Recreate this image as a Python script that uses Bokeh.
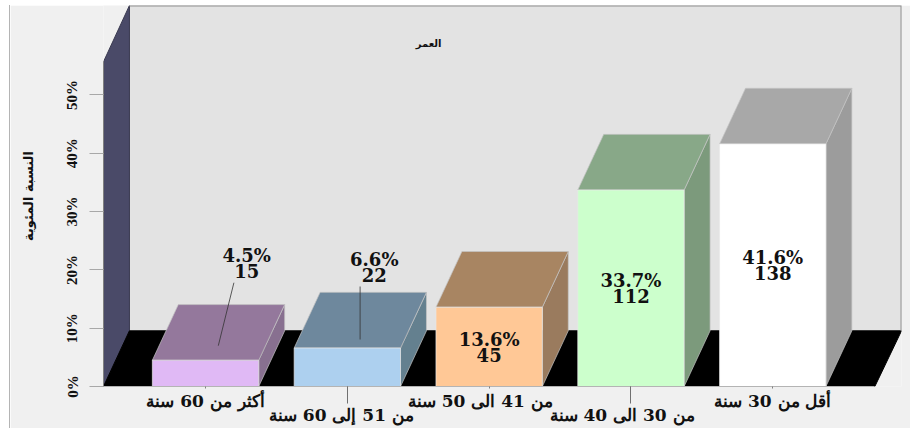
from bokeh.plotting import figure
from bokeh.embed import file_html
from bokeh.resources import INLINE
from bokeh.core.properties import value
from bokeh.models import Range1d, FixedTicker

categories = ["أكثر من 60 سنة", "من 51  إلى  60 سنة", "من 41  الى  50  سنة", "من 30  الى  40  سنة", "أقل من 30 سنة"]
percent = [4.5, 6.6, 13.6, 33.7, 41.6]
counts = [15, 22, 45, 112, 138]
y_ticks = [0, 10, 20, 30, 40, 50]
y_title = "النسبة المئوية"
chart_title = "العمر"

front_colors = ["#E0B9F5", "#ADD0EF", "#FFC896", "#CCFFCC", "#FFFFFF"]
top_colors = ["#94789C", "#6E889D", "#A88562", "#88A888", "#A8A8A8"]
side_colors = ["#887090", "#64808F", "#9A7B5E", "#7C9A7C", "#9C9C9C"]

X0, X1 = -0.7196, 4.908
Y1, WALL = 65.35, 55.7
DX, DY = 0.183, 9.55
BW = 0.75
FLOOR_END = 4.72

p = figure(width=901, height=423, x_range=Range1d(X0, X1), y_range=Range1d(0, Y1),
           output_backend="svg", toolbar_location=None,
           min_border_left=93, min_border_right=10, min_border_top=0, min_border_bottom=42,
           background_fill_color="#F0F0F0", border_fill_color="#F0F0F0",
           margin=(5, 0, 0, 9))
p.outline_line_color = None
p.grid.visible = False
p.styles = {"border-left": "1px solid #B4B4B4"}

# walls and floor
p.patch([X0 + DX, X1, X1, X0 + DX], [DY, DY, Y1, Y1], color="#E3E3E3")
p.patch([X0, X0, X0 + DX, X0 + DX], [0, WALL, Y1, DY], fill_color="#4A4A68", line_color="#3A3A50")
p.patch([X0, FLOOR_END, X1, X0 + DX], [0, 0, DY, DY], color="#000000")
p.line([X0 + DX, X1, X1], [Y1, Y1, DY], line_color="#909090", line_width=2)

# bars
for i, v in enumerate(percent):
    l, r = i - BW / 2, i + BW / 2
    p.patch([r, r + DX, r + DX, r], [0, DY, v + DY, v], fill_color=side_colors[i], line_color="#C4C4C4", line_width=0.7)
    p.patch([l, r, r + DX, l + DX], [v, v, v + DY, v + DY], fill_color=top_colors[i], line_color="#C4C4C4", line_width=0.7)
    p.quad(left=l, right=r, bottom=0, top=v, fill_color=front_colors[i], line_color="#E8E8E8", line_width=0.7)

# value labels
label_x = [0.29, 1.19, 2, 3, 4]
label_y = [21.1, 20.5, 6.7, 16.8, 20.75]
for x, y, v, c in zip(label_x, label_y, percent, counts):
    p.text([x], [y + 1.3], text=[f"{v}%"],
           text_font=value("DejaVu Serif"), text_font_style="bold", text_font_size="18px",
           text_align="center", text_baseline="middle", text_color="#111111")
    p.text([x], [y - 1.3], text=[str(c)],
           text_font=value("DejaVu Serif"), text_font_style="bold", text_font_size="18px",
           text_align="center", text_baseline="middle", text_color="#111111")

# leader lines
p.segment([0.2, 1.09], [17.8, 17.15], [0.09, 1.09], [7.0, 8.06], line_color="#333333", line_width=0.8)

p.text([1.573], [58.8], text=[chart_title], text_font=value("DejaVu Sans"), text_font_style="bold",
       text_font_size="10px", text_align="center", text_baseline="middle", text_color="#111111")

# axes
ya = p.yaxis[0]
ya.ticker = FixedTicker(ticks=y_ticks)
ya.major_label_overrides = {t: f"{t}%" for t in y_ticks}
ya.bounds = (0, WALL)
ya.major_tick_out = 14
ya.major_tick_in = 0
ya.minor_tick_out = 0
ya.minor_tick_in = 0
ya.major_tick_line_color = "#A8A8A8"
ya.axis_line_color = "#808080"
ya.major_label_orientation = "vertical"
ya.major_label_standoff = 9
ya.major_label_text_font = "Liberation Serif"
ya.major_label_text_font_style = "bold"
ya.major_label_text_font_size = "15px"
ya.major_label_text_color = "#111111"
ya.axis_label = y_title
ya.axis_label_text_font = "DejaVu Sans"
ya.axis_label_text_font_style = "bold"
ya.axis_label_text_font_size = "13px"
ya.axis_label_text_color = "#111111"
ya.axis_label_standoff = 26

xa = p.xaxis[0]
xa.ticker = FixedTicker(ticks=list(range(len(categories))), minor_ticks=[1, 3])
xa.major_label_overrides = {i: ("\n" + c if i % 2 else c) for i, c in enumerate(categories)}
xa.bounds = (X0, FLOOR_END)
xa.major_tick_out = 2
xa.major_tick_in = 0
xa.minor_tick_out = 17
xa.minor_tick_in = 0
xa.major_tick_line_color = "#808080"
xa.minor_tick_line_color = "#707070"
xa.axis_line_color = "#B4B4B4"
xa.major_label_orientation = "horizontal"
xa.major_label_standoff = -13
xa.major_label_text_font = "DejaVu Serif"
xa.major_label_text_font_style = "bold"
xa.major_label_text_font_size = "17px"
xa.major_label_text_line_height = 0.7
xa.major_label_text_color = "#111111"

open("out.html", "w").write(file_html(p, INLINE))
